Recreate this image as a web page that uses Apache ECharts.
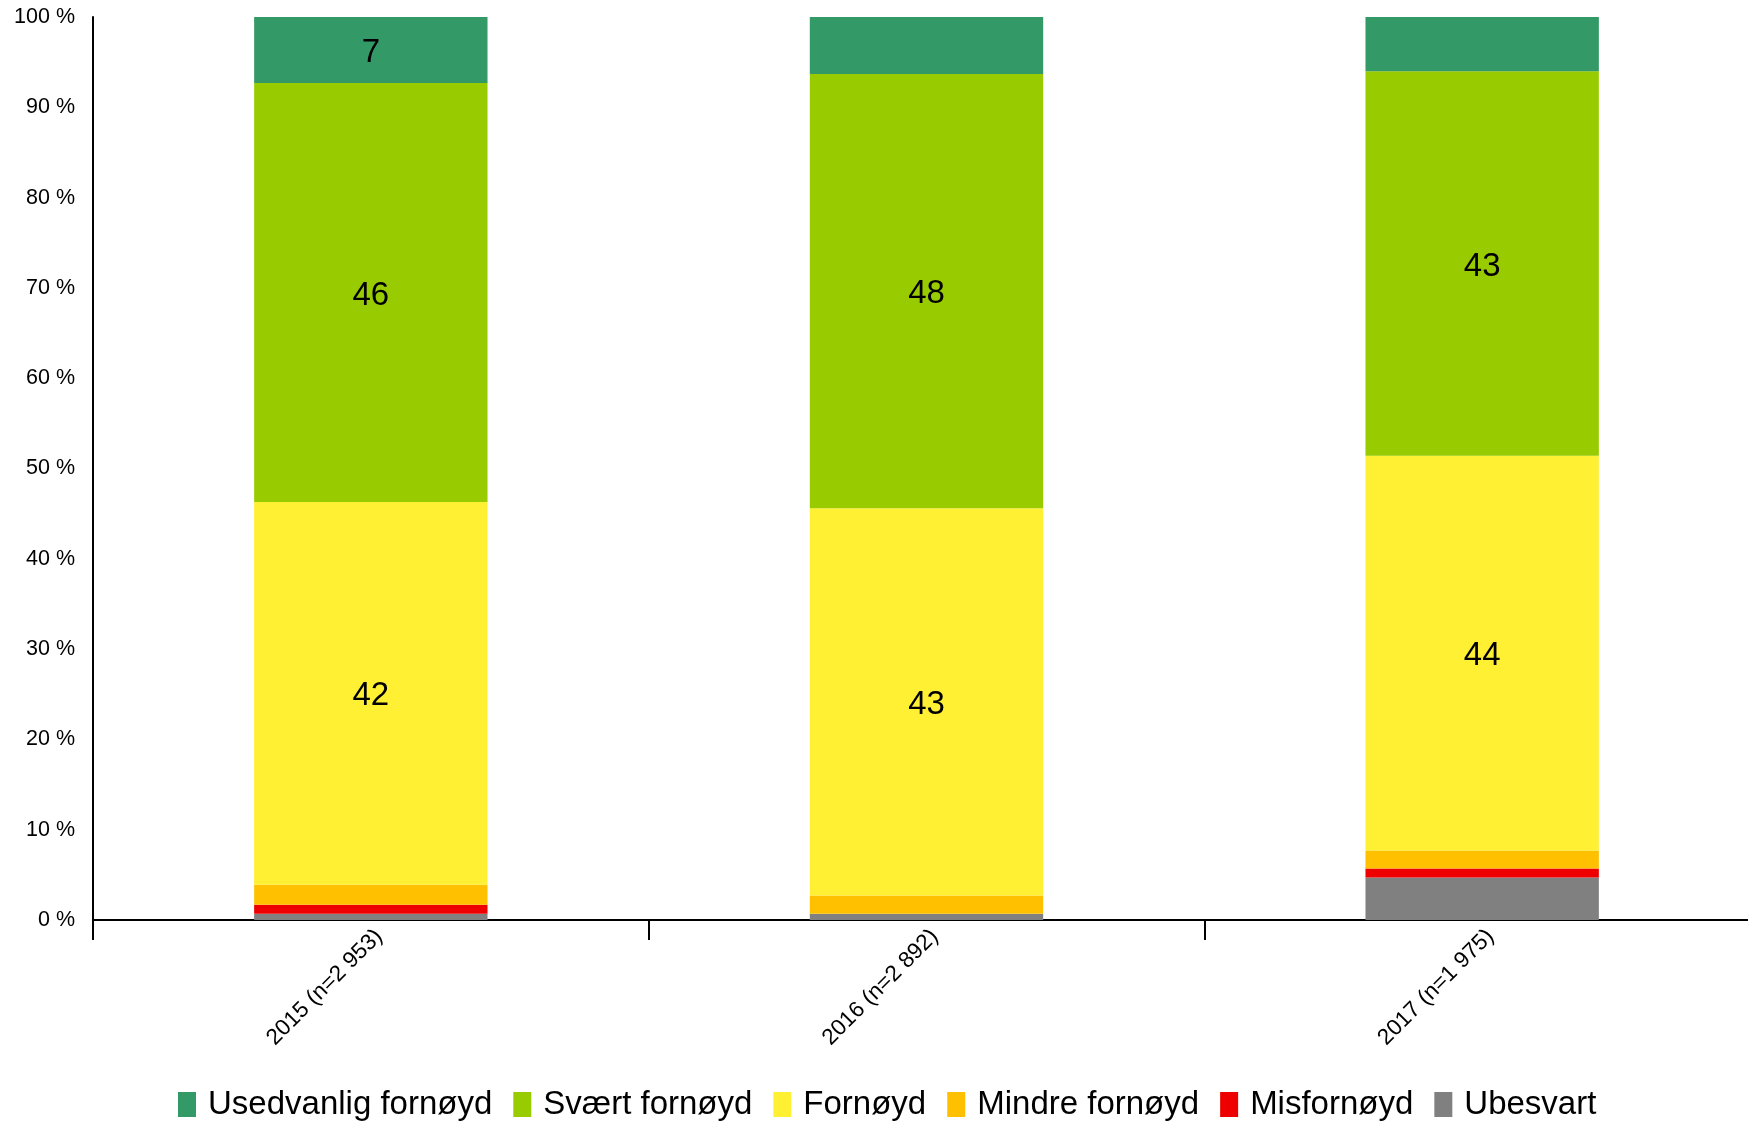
<!DOCTYPE html>
<html>
<head>
<meta charset="utf-8">
<script src="https://cdn.jsdelivr.net/npm/echarts@6/dist/echarts.min.js"></script>
<style>
html,body{margin:0;padding:0;background:#fff;}
#chart{width:1748px;height:1121px;}
</style>
</head>
<body>
<div id="chart"></div>
<script>
// Categories (x axis)
const categories = ['2015 (n=2 953)', '2016 (n=2 892)', '2017 (n=1 975)'];
// Series names (legend order, top of stack first)
const seriesNames = ['Usedvanlig fornøyd', 'Svært fornøyd', 'Fornøyd', 'Mindre fornøyd', 'Misfornøyd', 'Ubesvart'];
// Values in percent, per series, per category
const usedvanlig = [7.3, 6.3, 6.0];
const svaert     = [46.4, 48.1, 42.6];
const fornoyd    = [42.4, 42.9, 43.7];
const mindre     = [2.2, 2.0, 2.0];
const misfornoyd = [1.0, 0.0, 1.0];
const ubesvart   = [0.7, 0.7, 4.7];
// Which segments carry a value label
const labelShown = {
  'Usedvanlig fornøyd': [true, false, false],
  'Svært fornøyd': [true, true, true],
  'Fornøyd': [true, true, true],
  'Mindre fornøyd': [false, false, false],
  'Misfornøyd': [false, false, false],
  'Ubesvart': [false, false, false]
};
const yTicks = [0, 10, 20, 30, 40, 50, 60, 70, 80, 90, 100];

const colors = {
  'Usedvanlig fornøyd': '#339966',
  'Svært fornøyd': '#99CC00',
  'Fornøyd': '#FFF033',
  'Mindre fornøyd': '#FFC000',
  'Misfornøyd': '#EE0000',
  'Ubesvart': '#808080'
};
const valuesByName = {
  'Usedvanlig fornøyd': usedvanlig,
  'Svært fornøyd': svaert,
  'Fornøyd': fornoyd,
  'Mindre fornøyd': mindre,
  'Misfornøyd': misfornoyd,
  'Ubesvart': ubesvart
};

const FONT = "'Liberation Sans', Arial, sans-serif";
// stack from bottom: reverse of legend order
const stackOrder = seriesNames.slice().reverse();
const series = stackOrder.map(name => ({
  name: name,
  type: 'bar',
  stack: 'total',
  barWidth: '42%',
  itemStyle: { color: colors[name] },
  label: {
    show: false,
    position: 'inside',
    offset: [0, 3],
    color: '#000',
    fontSize: 33,
    fontFamily: FONT,
    formatter: p => String(Math.round(p.value))
  },
  emphasis: { disabled: true },
  data: valuesByName[name].map((v, i) => ({ value: v, label: { show: labelShown[name][i] } }))
}));

const chart = echarts.init(document.getElementById('chart'), null, { renderer: 'canvas' });
chart.setOption({
  animation: false,
  backgroundColor: '#fff',
  grid: { left: 93, right: -12, top: 17, bottom: 201, containLabel: false, outerBoundsMode: 'none' },
  legend: {
    data: seriesNames,
    left: 173,
    top: 1083,
    itemWidth: 18,
    itemHeight: 25,
    itemGap: 21,
    icon: 'rect',
    textStyle: { fontSize: 33, color: '#000', fontFamily: FONT, padding: [0, 0, 0, 7] }
  },
  xAxis: {
    type: 'category',
    data: categories,
    axisLine: { lineStyle: { color: '#000', width: 2 } },
    axisTick: { show: true, length: 20, lineStyle: { color: '#000', width: 2 } },
    axisLabel: { rotate: 45, fontSize: 22.5, color: '#000', fontFamily: FONT, margin: 5, interval: 0, verticalAlign: 'top' }
  },
  yAxis: {
    type: 'value',
    min: 0,
    max: 100,
    interval: 10,
    axisLine: { show: true, lineStyle: { color: '#000', width: 2 } },
    axisTick: { show: false },
    splitLine: { show: false },
    axisLabel: {
      fontSize: 21.5, color: '#000', fontFamily: FONT, margin: 18,
      formatter: v => (yTicks.indexOf(v) >= 0 ? v + ' %' : '')
    }
  },
  series: series
});
</script>
</body>
</html>
